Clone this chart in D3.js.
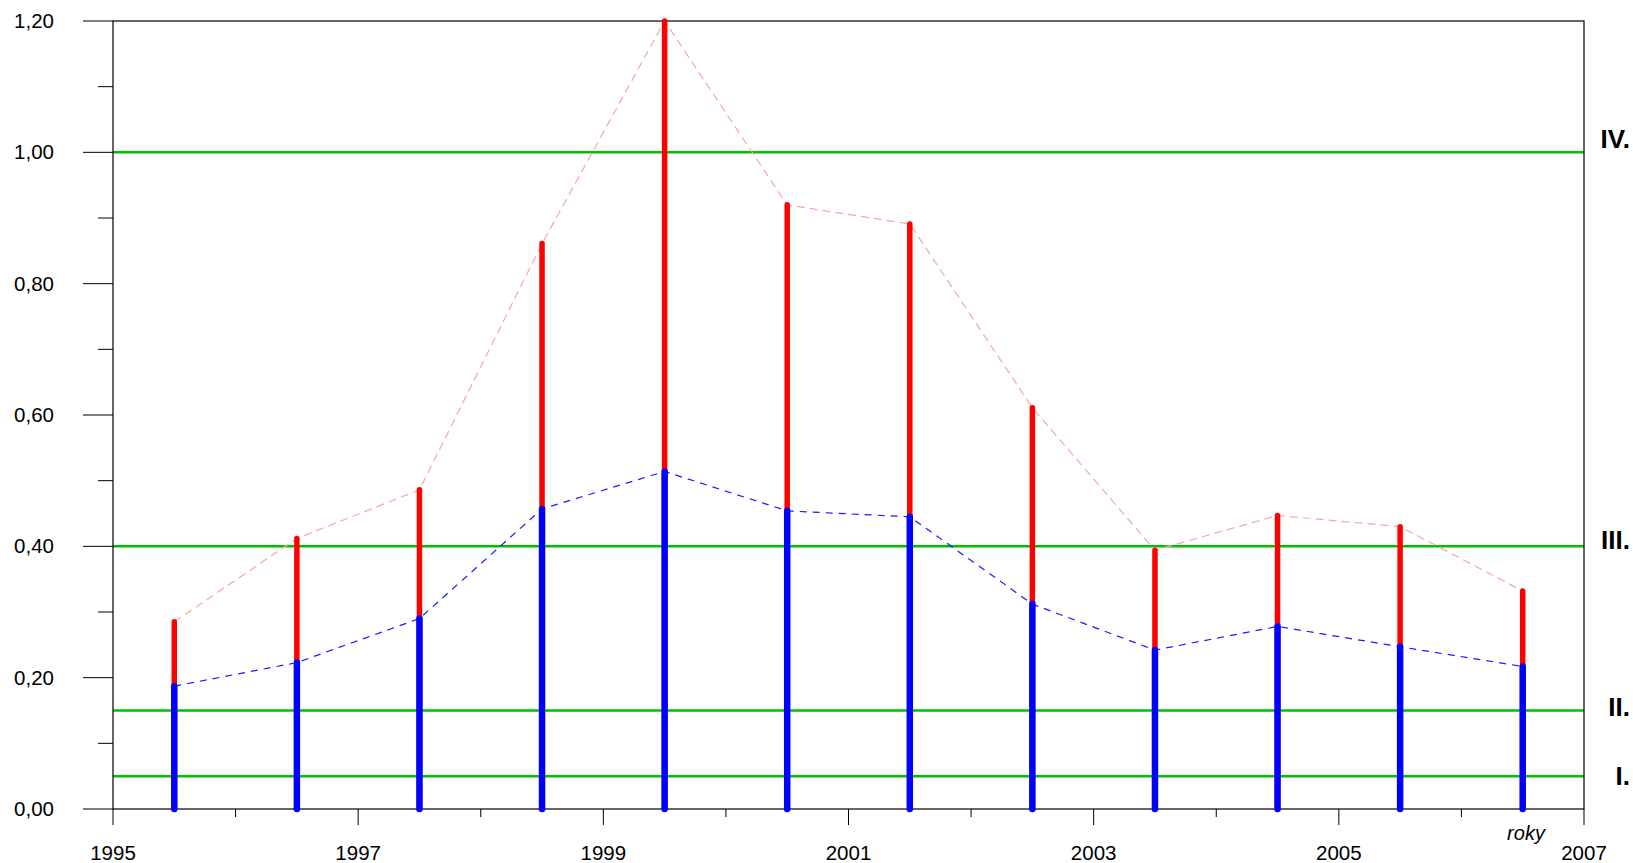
<!DOCTYPE html>
<html lang="cs">
<head>
<meta charset="UTF-8">
<title>roky</title>
<style>
  body { margin: 0; background: #fff; }
  text { font-family: "Liberation Sans", Arial, sans-serif; }
</style>
</head>
<body>
<svg id="chart"></svg>
<script src="https://cdnjs.cloudflare.com/ajax/libs/d3/7.8.5/d3.min.js"></script>
<script>
// data
const years = [1995.5, 1996.5, 1997.5, 1998.5, 1999.5, 2000.5, 2001.5, 2002.5, 2003.5, 2004.5, 2005.5, 2006.5];
const redValues = [0.285, 0.412, 0.486, 0.861, 1.20, 0.920, 0.891, 0.611, 0.394, 0.447, 0.430, 0.332];
const blueValues = [0.187, 0.223, 0.290, 0.457, 0.514, 0.454, 0.445, 0.312, 0.242, 0.278, 0.247, 0.217];
const limits = [0.05, 0.15, 0.40, 1.00];
const limitLabels = ["I.", "II.", "III.", "IV."];
const limitLabelY = [0.05, 0.155, 0.41, 1.02];
const yTicks = [0, 0.2, 0.4, 0.6, 0.8, 1.0, 1.2];
const xTicks = [1995, 1997, 1999, 2001, 2003, 2005, 2007];

const W = 1633, H = 863;
const svg = d3.select("#chart").attr("width", W).attr("height", H);

const x = d3.scaleLinear().domain([1995, 2007]).range([113, 1584]);
const y = d3.scaleLinear().domain([0, 1.2]).range([809, 21]);

const fmt = v => d3.format(".2f")(v).replace(".", ",");

// green limit lines
svg.append("g").selectAll("line")
  .data(limits).enter().append("line")
  .attr("x1", x(1995)).attr("x2", x(2007))
  .attr("y1", d => y(d)).attr("y2", d => y(d))
  .attr("stroke", "#00c000").attr("stroke-width", 2.5);

// frame
svg.append("rect")
  .attr("x", x(1995)).attr("y", y(1.2))
  .attr("width", x(2007) - x(1995)).attr("height", y(0) - y(1.2))
  .attr("fill", "none").attr("stroke", "#000").attr("stroke-width", 1.2);

// y axis ticks (major every 0.2, minor at 0.1)
const yMinor = d3.range(0.1, 1.2, 0.2);
svg.append("g").selectAll("line.maj")
  .data(yTicks).enter().append("line")
  .attr("x1", 83).attr("x2", x(1995))
  .attr("y1", d => y(d)).attr("y2", d => y(d))
  .attr("stroke", "#000").attr("stroke-width", 1);
svg.append("g").selectAll("line.min")
  .data(yMinor).enter().append("line")
  .attr("x1", 98).attr("x2", x(1995))
  .attr("y1", d => y(d)).attr("y2", d => y(d))
  .attr("stroke", "#000").attr("stroke-width", 1);
svg.append("g").selectAll("text")
  .data(yTicks).enter().append("text")
  .attr("x", 54).attr("y", d => y(d) + 7)
  .attr("text-anchor", "end")
  .attr("font-size", 20.5)
  .text(fmt);

// x axis ticks
const xMinor = d3.range(1996, 2007, 2);
svg.append("g").selectAll("line.maj")
  .data(xTicks).enter().append("line")
  .attr("x1", d => x(d)).attr("x2", d => x(d))
  .attr("y1", y(0)).attr("y2", y(0) + 16)
  .attr("stroke", "#000").attr("stroke-width", 1);
svg.append("g").selectAll("line.min")
  .data(xMinor).enter().append("line")
  .attr("x1", d => x(d)).attr("x2", d => x(d))
  .attr("y1", y(0)).attr("y2", y(0) + 8)
  .attr("stroke", "#000").attr("stroke-width", 1);
svg.append("g").selectAll("text")
  .data(xTicks).enter().append("text")
  .attr("x", d => x(d)).attr("y", 860)
  .attr("text-anchor", "middle")
  .attr("font-size", 20.5)
  .text(d => d);

svg.append("text")
  .attr("x", 1526).attr("y", 840)
  .attr("text-anchor", "middle")
  .attr("font-size", 20).attr("font-style", "italic")
  .text("roky");

// limit labels on the right
svg.append("g").selectAll("text")
  .data(limitLabels).enter().append("text")
  .attr("x", 1630).attr("y", (d, i) => y(limitLabelY[i]) + 9)
  .attr("text-anchor", "end")
  .attr("font-size", 26).attr("font-weight", "bold")
  .text(d => d);

// dashed connecting lines
const redLine = d3.line().x((d, i) => x(years[i])).y(d => y(d));
svg.append("path")
  .attr("d", redLine(redValues))
  .attr("fill", "none").attr("stroke", "#f4a8a8")
  .attr("stroke-width", 1.2).attr("stroke-dasharray", "8,5");
svg.append("path")
  .attr("d", redLine(blueValues))
  .attr("fill", "none").attr("stroke", "#1a1aff")
  .attr("stroke-width", 1.2).attr("stroke-dasharray", "7,6");

// bars
svg.append("g").selectAll("line")
  .data(redValues).enter().append("line")
  .attr("x1", (d, i) => x(years[i])).attr("x2", (d, i) => x(years[i]))
  .attr("y1", y(0)).attr("y2", d => y(d))
  .attr("stroke", "#ff0000").attr("stroke-width", 5.5)
  .attr("stroke-linecap", "round");
svg.append("g").selectAll("line")
  .data(blueValues).enter().append("line")
  .attr("x1", (d, i) => x(years[i])).attr("x2", (d, i) => x(years[i]))
  .attr("y1", y(0)).attr("y2", d => y(d))
  .attr("stroke", "#0000ff").attr("stroke-width", 6.5)
  .attr("stroke-linecap", "round");
</script>
</body>
</html>
